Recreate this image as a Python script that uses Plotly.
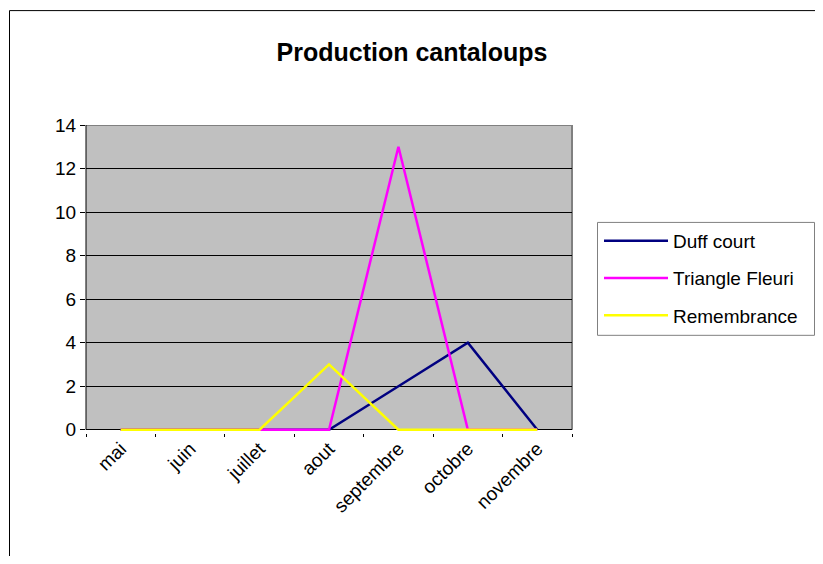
import plotly.graph_objects as go

months = ["mai", "juin", "juillet", "aout", "septembre", "octobre", "novembre"]
duff_court = [0, 0, 0, 0, 2, 4, 0]
triangle_fleuri = [0, 0, 0, 0, 13, 0, 0]
remembrance = [0, 0, 0, 3, 0, 0, 0]
y_ticks = [0, 2, 4, 6, 8, 10, 12, 14]

series = [
    ("Duff court", duff_court, "#000080"),
    ("Triangle Fleuri", triangle_fleuri, "#FF00FF"),
    ("Remembrance", remembrance, "#FFFF00"),
]

OFF = 8  # page body margin
W, H = 823 - 2 * OFF, 564 - 2 * OFF
YMIN = -0.15
# reference pixel positions of plot area
RL, RR, RT, RB0 = 86, 572, 125, 430  # RB0 = pixel of y=0
pix_per_unit = (RB0 - RT) / 14.0
RB = RB0 + (-YMIN) * pix_per_unit
L, R, T, B = RL - OFF, RR - OFF, RT - OFF, RB - OFF

fig = go.Figure()
for i, (name, vals, col) in enumerate(series):
    fig.add_trace(go.Scatter(
        x=months, y=vals, name=name, mode="lines",
        line=dict(color=col, width=2.5), legendgroup=f"g{i}",
    ))

pw = R - L
ph = B - T
def px_x(p):
    return (p - OFF - L) / pw
def px_y(p):
    return (B - (p - OFF)) / ph

shapes = [
    # outer chart border
    dict(type="rect", xref="paper", yref="paper",
         x0=px_x(9.5), x1=px_x(860), y0=px_y(600), y1=px_y(10.5),
         line=dict(color="#000000", width=1), fillcolor="rgba(0,0,0,0)", layer="below"),
    # legend box
    dict(type="rect", xref="paper", yref="paper",
         x0=px_x(597.5), x1=px_x(814.5), y0=px_y(335.5), y1=px_y(222.5),
         line=dict(color="#808080", width=1), fillcolor="white", layer="below"),
    # plot area gray fill
    dict(type="rect", xref="x domain", yref="y", x0=0, x1=1, y0=0, y1=14,
         line=dict(width=0), fillcolor="#C0C0C0", layer="below"),
    # gray top and right border
    dict(type="line", xref="x domain", yref="y", x0=0, x1=1, y0=14, y1=14,
         line=dict(color="#808080", width=2), layer="below"),
    dict(type="line", xref="x domain", yref="y", x0=1, x1=1, y0=0, y1=14,
         line=dict(color="#808080", width=2), layer="below"),
    # black left axis line
    dict(type="line", xref="x domain", yref="y", x0=0, x1=0, y0=0, y1=14,
         line=dict(color="#000000", width=1), layer="below"),
]

fig.update_layout(
    width=W, height=H,
    margin=dict(l=L, r=W - R, t=T, b=H - B, pad=0),
    paper_bgcolor="white",
    plot_bgcolor="white",
    font=dict(family="Liberation Sans, Arial, sans-serif", size=19, color="black"),
    title=dict(text="<b>Production cantaloups</b>", x=(412 - OFF) / W, xanchor="center",
               y=1 - (52 - OFF) / H, yanchor="middle", yref="container",
               font=dict(size=25, color="black")),
    showlegend=True,
    legend=dict(x=px_x(599), y=px_y(222), xanchor="left", yanchor="top",
                bgcolor="rgba(0,0,0,0)", borderwidth=0,
                font=dict(size=19), tracegroupgap=9.5, traceorder="grouped",
                itemwidth=64),
    shapes=shapes,
    xaxis=dict(type="category", range=[-0.5, 6.5], tickangle=-45,
               ticks="outside", ticklen=3, tickcolor="black", tickson="boundaries",
               showline=False, showgrid=False, zeroline=False, fixedrange=True,
               layer="below traces"),
    yaxis=dict(range=[YMIN, 14], tickvals=y_ticks, ticks="outside", ticklen=5,
               tickcolor="black", showline=False,
               showgrid=True, gridcolor="#000000", gridwidth=1,
               zeroline=True, zerolinecolor="#000000", zerolinewidth=1,
               fixedrange=True, layer="below traces"),
)

fig.write_html("out.html")
